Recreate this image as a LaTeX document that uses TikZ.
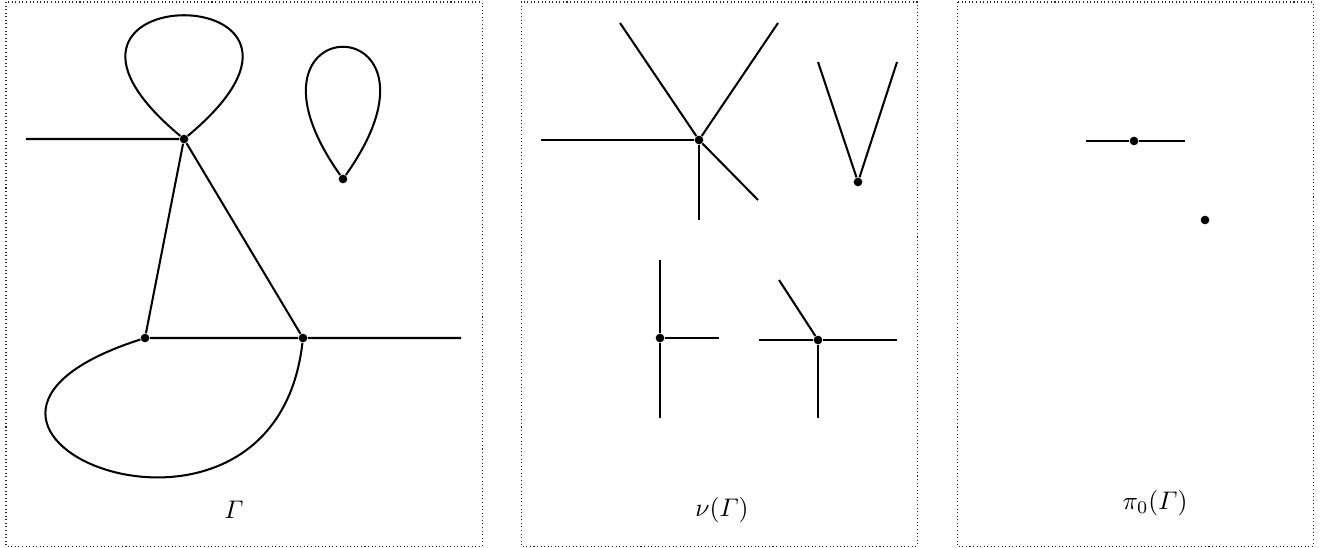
\documentclass[tikz,border=0pt]{standalone}
\usepackage{amsmath}

\begin{document}
\begin{tikzpicture}[x=0.0138cm,y=-0.0138cm,
    vtx/.style={circle,fill,inner sep=0pt,minimum size=3.4pt},
    edg/.style={thick},
    frm/.style={densely dotted,line width=0.4pt,black!85}]
  \useasboundingbox (0,0) rectangle (1327,547);
  % the three frames
  \draw[frm] (6,2) rectangle (482,546);
  \draw[frm] (521,2) rectangle (917,546);
  \draw[frm] (957,2) rectangle (1313,546);
  % Gamma
  \foreach \n/\x/\y in {a/184/139,b/145/338,c/303/338,d/343/179}{\node[vtx](\n) at (\x,\y){};}
  \coordinate (a0) at (26,139); \coordinate (c0) at (461,338);
  \draw[edg] (a0) -- (a) -- (b) -- (c) -- (c0);
  \draw[edg] (a) -- (c);
  \draw[edg] (a) .. controls +(-197,-164) and +(197,-164) .. (a);
  \draw[edg] (d) .. controls +(-124,-175) and +(124,-175) .. (d);
  \draw[edg] (b) .. controls +(-280,90) and +(-30,260) .. (c);
  \node (lg) at (234,510) {$\varGamma$};
  % nu(Gamma)
  \foreach \n/\x/\y in {e/699/140,f/858/182,g/660/338,h/818/340}{\node[vtx](\n) at (\x,\y){};}
  \foreach \n/\x/\y in {e1/541/140,e2/620/23,e3/778/23,e4/699/220,e5/758/200,
      f1/818/62,f2/897/62,g1/660/260,g2/660/418,g3/719/338,
      h1/759/340,h2/897/340,h3/818/418,h4/779/280}{\coordinate (\n) at (\x,\y);}
  \foreach \p in {e1,e2,e3,e4,e5}{\draw[edg] (e) -- (\p);}
  \foreach \p in {f1,f2}{\draw[edg] (f) -- (\p);}
  \foreach \p in {g1,g2,g3}{\draw[edg] (g) -- (\p);}
  \foreach \p in {h1,h2,h3,h4}{\draw[edg] (h) -- (\p);}
  \node (ln) at (722,510) {$\nu(\varGamma)$};
  % pi_0(Gamma)
  \node[vtx] (p) at (1134,141) {}; \node[vtx] (q) at (1205,220) {};
  \coordinate (p1) at (1086,141); \coordinate (p2) at (1185,141);
  \draw[edg] (p1) -- (p) -- (p2);
  \node (lp) at (1155,503) {$\pi_0(\varGamma)$};
\end{tikzpicture}
\end{document}
